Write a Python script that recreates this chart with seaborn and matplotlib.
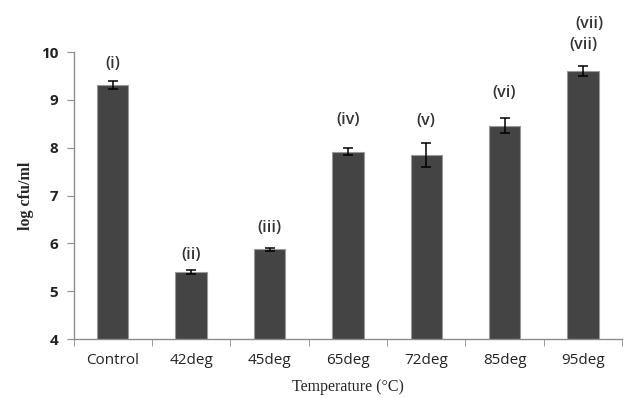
import numpy as np
import pandas as pd
import matplotlib
matplotlib.use("Agg")
import matplotlib.pyplot as plt
import seaborn as sns
from matplotlib.ticker import FixedLocator

# Values
groups = ['Control', '42deg', '45deg', '65deg', '72deg', '85deg', '95deg']
log_cfu = [9.31, 5.40, 5.88, 7.92, 7.84, 8.46, 9.60]
errors = [0.08, 0.04, 0.03, 0.07, 0.25, 0.16, 0.10]
labels = ['(i)', '(ii)', '(iii)', '(iv)', '(v)', '(vi)', '(vii)']
label_y = [9.75, 5.75, 6.33, 8.58, 8.56, 9.15, 10.15]

df = pd.DataFrame({'group': groups, 'log_cfu': log_cfu})

sns.set_style('white')
plt.rcParams['font.family'] = ['Open Sans', 'DejaVu Sans']

fig = plt.figure(figsize=(6.24, 3.98), dpi=100)
ax = fig.add_axes([0.118, 0.148, 0.879, 0.721])

sns.barplot(data=df, x='group', y='log_cfu', color='#444444', width=0.4,
            edgecolor='#9a9a9a', linewidth=0.8, saturation=1, errorbar=None, ax=ax)
ax.errorbar(np.arange(len(groups)), log_cfu, yerr=errors, fmt='none',
            ecolor='black', elinewidth=1.1, capsize=3.5, capthick=1.1)

for i, (lab, ly) in enumerate(zip(labels, label_y)):
    ax.text(i, ly, lab, ha='center', va='center', fontsize=11.5, fontweight='semibold',
            color='#333333', clip_on=False)
# the duplicated label above the last bar
ax.text(len(groups) - 0.92, 10.58, labels[-1], ha='center', va='center', fontsize=11.5,
        fontweight='semibold', color='#333333', clip_on=False)

ax.set_ylim(4, 10)
ax.set_xlim(-0.5, len(groups) - 0.5)
ax.set_yticks([4, 5, 6, 7, 8, 9, 10])
ax.xaxis.set_minor_locator(FixedLocator(np.arange(-0.5, len(groups), 1.0)))
ax.tick_params(axis='x', which='major', length=0, pad=10, labelsize=11, labelcolor='#222222')
ax.tick_params(axis='x', which='minor', length=5, color='#8c8c8c', direction='out', bottom=True)
ax.tick_params(axis='y', length=5, color='#8c8c8c', direction='out', left=True,
               labelsize=11, labelcolor='#222222', pad=6)
for t in ax.get_yticklabels():
    t.set_fontweight('bold')
for t in ax.get_xticklabels():
    t.set_fontweight('medium')

for s in ['top', 'right']:
    ax.spines[s].set_visible(False)
for s in ['left', 'bottom']:
    ax.spines[s].set_color('#8c8c8c')
    ax.spines[s].set_linewidth(1.0)

ax.set_xlabel('Temperature (°C)', family='Liberation Serif', fontsize=11.5, labelpad=8)
ax.set_ylabel('log cfu/ml', family='Liberation Serif', fontsize=11.5, fontweight='bold', labelpad=5)

fig.savefig('out.png', dpi=100)
